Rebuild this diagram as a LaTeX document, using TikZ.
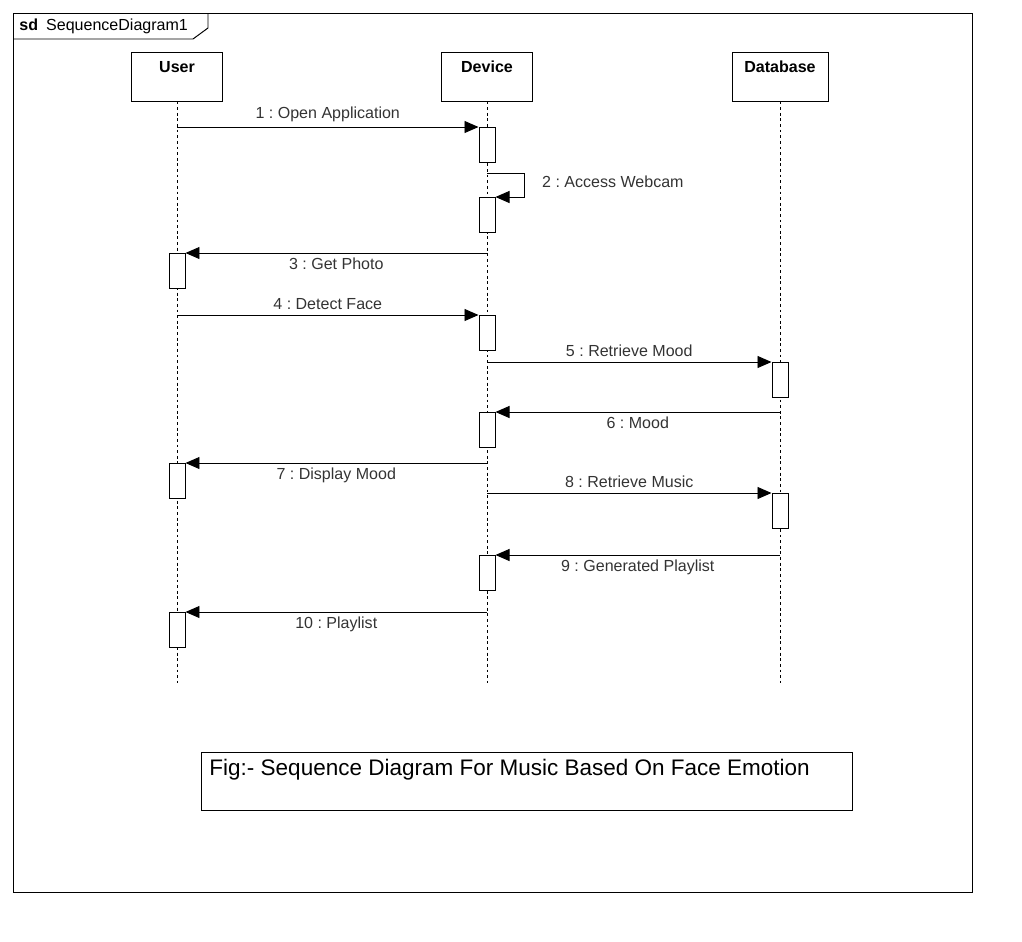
\documentclass[tikz,border=0pt]{standalone}
\usepackage{fontspec}
\setmainfont{Liberation Sans}
\frenchspacing
\usetikzlibrary{arrows.meta}

\tikzset{
  head/.style={draw, minimum width=2.25cm, minimum height=1.225cm, inner sep=0pt},
  headtxt/.style={anchor=north, inner sep=0pt, font=\fontsize{11.4}{13}\selectfont\bfseries},
  act/.style={draw, fill=white, minimum width=0.4cm, minimum height=0.875cm, inner sep=0pt, anchor=north},
  life/.style={dash pattern=on 2pt off 2pt},
  msg/.style={-{Triangle[length=0.35cm,width=0.3cm]}},
  lbl/.style={font=\fontsize{11.4}{13}\selectfont, text=black!80},
}

\begin{document}
\begin{tikzpicture}[x=0.025cm, y=-0.025cm, line width=0.7pt]
                \useasboundingbox (0,0) rectangle (1022,942);
                \draw (13,13) rectangle (972,892);
                \draw (13,39) -- (193,39) -- (208,28) -- (208,13);
                \node[lbl, text=black, anchor=west, inner sep=0pt] (tag) at (19,26) {\textbf{sd}\hspace{0.5em}SequenceDiagram1};

                \node[head] (user) at (177,76.5) {};
                \node[head] (device) at (487,76.5) {};
                \node[head, minimum width=2.4cm] (database) at (780,76.5) {};
                \node[headtxt] (usertxt) at ([yshift=-0.225cm]user.north) {User};
                \node[headtxt] (devicetxt) at ([yshift=-0.225cm]device.north) {Device};
                \node[headtxt] (databasetxt) at ([yshift=-0.225cm]database.north) {Database};

                \coordinate (userend) at (177,683);
                \coordinate (deviceend) at (487,683);
                \coordinate (databaseend) at (780,683);
                \draw[life] (user) -- (userend);
                \draw[life] (device) -- (deviceend);
                \draw[life] (database) -- (databaseend);

                \node[act] (a1) at (487,127) {};
                \node[act] (a2) at (487,197) {};
                \node[act] (a3) at (177,253) {};
                \node[act] (a4) at (487,315) {};
                \node[act] (a5) at (780,362) {};
                \node[act] (a6) at (487,412) {};
                \node[act] (a7) at (177,463) {};
                \node[act] (a8) at (780,493) {};
                \node[act] (a9) at (487,555) {};
                \node[act] (a10) at (177,612) {};

                \draw[msg] (user |- a1.north) -- node[lbl, above] {1 : Open Application} (a1.north west);
                \coordinate (s2) at (487,173);
                \draw[msg] (s2) -- ++(37,0) |- (a2.north east);
                \node[lbl, anchor=west] (l2) at (537,182) {2 : Access Webcam};
                \draw[msg] (device |- a3.north) -- node[lbl, below, inner sep=3pt] {3 : Get Photo} (a3.north east);
                \draw[msg] (user |- a4.north) -- node[lbl, above] {4 : Detect Face} (a4.north west);
                \draw[msg] (device |- a5.north) -- node[lbl, above] {5 : Retrieve Mood} (a5.north west);
                \draw[msg] (database |- a6.north) -- node[lbl, below, inner sep=3pt] {6 : Mood} (a6.north east);
                \draw[msg] (device |- a7.north) -- node[lbl, below, inner sep=3pt] {7 : Display Mood} (a7.north east);
                \draw[msg] (device |- a8.north) -- node[lbl, above] {8 : Retrieve Music} (a8.north west);
                \draw[msg] (database |- a9.north) -- node[lbl, below, inner sep=3pt] {9 : Generated Playlist} (a9.north east);
                \draw[msg] (device |- a10.north) -- node[lbl, below, inner sep=3pt] {10 : Playlist} (a10.north east);

                \node[draw, minimum width=16.25cm, minimum height=1.45cm, inner sep=0pt] (caption) at (527,781) {};
                \node[anchor=north west, inner sep=0pt, font=\fontsize{16}{19}\selectfont] (captxt) at (209,759) {Fig:- Sequence Diagram For Music Based On Face Emotion};
            \end{tikzpicture}
\end{document}
